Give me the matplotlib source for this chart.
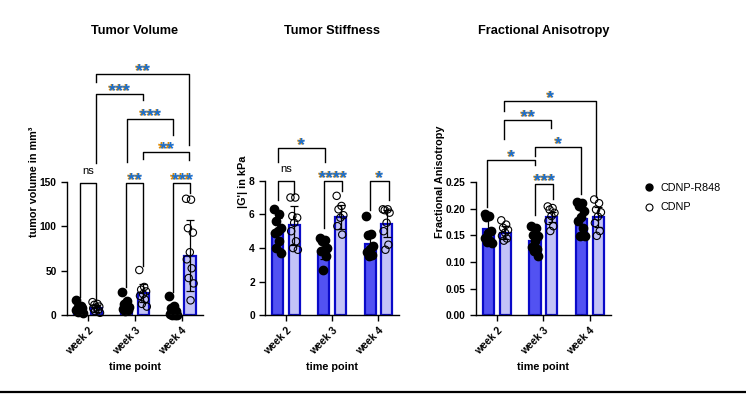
import matplotlib
matplotlib.use("Agg")
import matplotlib.pyplot as plt
import numpy as np
from matplotlib.lines import Line2D


weeks = ["week 2", "week 3", "week 4"]
groups = ["CDNP-R848", "CDNP"]

# tumor volume (mm3)
vol_r848_mean = [8, 10, 4]
vol_r848_sd = [5, 7, 7]
vol_cdnp_mean = [8, 25, 67]
vol_cdnp_sd = [4, 10, 40]
vol_r848_pts = [
    [17, 11, 9, 8, 7, 6, 5, 4, 3],
    [26, 16, 13, 10, 8, 7, 6, 5],
    [22, 11, 8, 5, 3, 2, 1, 1, 0.5],
]
vol_cdnp_pts = [
    [15, 13, 12, 10, 9, 8, 6, 5, 3],
    [51, 32, 29, 27, 24, 22, 18, 13, 10],
    [131, 130, 98, 93, 71, 63, 53, 42, 36, 17],
]

# tumor stiffness |G'| (kPa)
stiff_r848_mean = [4.9, 3.85, 4.25]
stiff_r848_sd = [0.9, 0.5, 0.7]
stiff_cdnp_mean = [5.35, 5.85, 5.45]
stiff_cdnp_sd = [1.15, 0.7, 0.8]
stiff_r848_pts = [
    [6.3, 6.05, 5.6, 5.2, 5.0, 4.9, 4.4, 4.0, 3.7],
    [4.6, 4.5, 4.4, 4.0, 3.9, 3.8, 3.5, 2.7],
    [5.9, 4.85, 4.75, 4.15, 3.95, 3.75, 3.6, 3.55],
]
stiff_cdnp_pts = [
    [7.0, 7.0, 5.9, 5.8, 5.5, 5.0, 4.4, 4.0, 3.9],
    [7.1, 6.5, 6.3, 5.95, 5.8, 5.3, 4.8],
    [6.3, 6.3, 6.25, 6.1, 5.5, 5.0, 4.2, 3.9],
]

# fractional anisotropy
fa_r848_mean = [0.162, 0.14, 0.18]
fa_r848_sd = [0.022, 0.015, 0.025]
fa_cdnp_mean = [0.155, 0.184, 0.184]
fa_cdnp_sd = [0.012, 0.01, 0.018]
fa_r848_pts = [
    [0.19, 0.186, 0.184, 0.158, 0.155, 0.145, 0.14, 0.137, 0.135],
    [0.168, 0.163, 0.15, 0.148, 0.14, 0.128, 0.125, 0.12, 0.112],
    [0.212, 0.211, 0.204, 0.195, 0.185, 0.177, 0.164, 0.149, 0.148],
]
fa_cdnp_pts = [
    [0.178, 0.17, 0.164, 0.16, 0.155, 0.149, 0.144, 0.14],
    [0.204, 0.201, 0.198, 0.192, 0.186, 0.177, 0.167, 0.158],
    [0.217, 0.21, 0.198, 0.193, 0.185, 0.173, 0.158, 0.149],
]

# significance brackets: x1, x2, y, left leg end, right leg end, label
vol_brackets = [
    (-0.18, 0.18, 149, 21, 16, "ns"),
    (0.82, 1.18, 149, 32, 56, "**"),
    (1.82, 2.18, 149, 26, 137, "***"),
    (1.18, 2.16, 183, 176, 175, "**"),
    (0.84, 1.82, 220, 172, 203, "***"),
    (0.16, 1.18, 249, 171, 242, "***"),
    (0.18, 2.16, 271, 262, 191, "**"),
]
stiff_brackets = [
    (-0.18, 0.18, 7.96, 6.87, 7.2, "ns"),
    (0.82, 1.2, 7.96, 5.19, 7.36, "****"),
    (1.82, 2.22, 7.96, 6.28, 6.87, "*"),
    (-0.18, 0.84, 9.92, 9.1, 9.1, "*"),
]
fa_brackets = [
    (0.82, 1.2, 0.2466, 0.188, 0.217, "***"),
    (-0.21, 0.82, 0.29, 0.202, 0.282, "*"),
    (0.82, 1.82, 0.316, 0.298, 0.228, "*"),
    (0.15, 1.16, 0.365, 0.331, 0.351, "**"),
    (0.15, 2.14, 0.402, 0.383, 0.222, "*"),
]

DARK = "#5252f2"
LIGHT = "#c3c3f7"
EDGE = "#0a0ac8"
OFF = 0.18
BW = 0.24


def setup():
    plt.rcParams.update({
        "font.family": ["Liberation Sans", "DejaVu Sans"],
        "font.size": 7.4,
        "axes.linewidth": 1.0,
        "xtick.major.width": 1.0,
        "ytick.major.width": 1.0,
        "xtick.major.size": 4,
        "ytick.major.size": 4,
    })


def jitter(n, width=0.17):
    return ((np.arange(n) * 0.618) % 1.0 - 0.5) * width


def stars(ax, x, y, label):
    if label == "ns":
        ax.annotate(label, (x, y), xytext=(0, 5), textcoords="offset points",
                    ha="center", va="bottom", fontsize=8, annotation_clip=False)
        return
    for dx, col in [(-0.5, "#e08a00"), (0.4, "#1a6fd0")]:
        ax.annotate(label, (x, y), xytext=(dx, -1.5), textcoords="offset points",
                    ha="center", va="baseline", fontsize=13, fontweight="bold",
                    color=col, annotation_clip=False)


def panel(ax, r_mean, r_sd, c_mean, c_sd, r_pts, c_pts, brackets, ymax, yticks, fmt):
    x = np.arange(len(weeks))
    ax.bar(x - OFF, r_mean, BW, color=DARK, edgecolor=EDGE, linewidth=1.6, zorder=2)
    ax.bar(x + OFF, c_mean, BW, color=LIGHT, edgecolor=EDGE, linewidth=1.6, zorder=2)
    ax.errorbar(x - OFF, r_mean, yerr=r_sd, fmt="none", ecolor="black",
                elinewidth=0.9, capsize=3, capthick=0.9, zorder=4)
    ax.errorbar(x + OFF, c_mean, yerr=c_sd, fmt="none", ecolor="black",
                elinewidth=0.9, capsize=3, capthick=0.9, zorder=4)
    for i in range(len(weeks)):
        rp = np.array(r_pts[i])
        cp = np.array(c_pts[i])
        ax.scatter(i - OFF + jitter(len(rp)), rp, s=36, color="black", zorder=3,
                   clip_on=False)
        ax.scatter(i + OFF + jitter(len(cp)), cp, s=28, facecolors="none",
                   edgecolors="black", linewidths=0.8, zorder=3, clip_on=False)

    for x1, x2, y, yl, yr, lab in brackets:
        ax.plot([x1, x1, x2, x2], [yl, y, y, yr], color="black", lw=1.0,
                clip_on=False, zorder=5)
        stars(ax, (x1 + x2) / 2, y, lab)

    ax.axhline(0, color="#999999", lw=0.8, ls=(0, (2, 2)), zorder=6)
    ax.set_xlim(-0.45, 2.45)
    ax.set_ylim(0, ymax)
    ax.spines["top"].set_visible(False)
    ax.spines["right"].set_visible(False)
    ax.spines["left"].set_bounds(0, yticks[-1])
    ax.set_yticks(yticks)
    ax.set_yticklabels([fmt.format(t) for t in yticks], fontweight="bold")
    ax.set_xticks(x)
    ax.set_xticklabels(weeks, rotation=45, ha="right", rotation_mode="anchor",
                       fontweight="bold")
    ax.tick_params(axis="x", pad=3)
    ax.set_xlabel("time point", fontsize=7.8, fontweight="bold", labelpad=4)


def main():
    setup()
    fig = plt.figure(figsize=(7.46, 3.95), dpi=100)
    bottom, height = 0.2013, 0.6767
    ax1 = fig.add_axes([0.0898, bottom, 0.1819, height])
    ax2 = fig.add_axes([0.3556, bottom, 0.1796, height])
    ax3 = fig.add_axes([0.638, bottom, 0.1806, height])

    panel(ax1, vol_r848_mean, vol_r848_sd, vol_cdnp_mean, vol_cdnp_sd,
          vol_r848_pts, vol_cdnp_pts, vol_brackets, 300, [0, 50, 100, 150], "{:g}")
    panel(ax2, stiff_r848_mean, stiff_r848_sd, stiff_cdnp_mean, stiff_cdnp_sd,
          stiff_r848_pts, stiff_cdnp_pts, stiff_brackets, 15.86, [0, 2, 4, 6, 8], "{:g}")
    panel(ax3, fa_r848_mean, fa_r848_sd, fa_cdnp_mean, fa_cdnp_sd,
          fa_r848_pts, fa_cdnp_pts, fa_brackets, 0.5,
          [0.0, 0.05, 0.10, 0.15, 0.20, 0.25], "{:.2f}")

    ax1.set_ylabel("tumor volume in mm³", fontsize=7.8, fontweight="bold", labelpad=0.5)
    ax2.set_ylabel("|G'| in kPa", fontsize=7.8, fontweight="bold", labelpad=0.5)
    ax3.set_ylabel("Fractional Anisotropy", fontsize=7.8, fontweight="bold", labelpad=0.5)

    for ax, title in [(ax1, "Tumor Volume"), (ax2, "Tumor Stiffness"),
                      (ax3, "Fractional Anisotropy")]:
        ax.set_title(title, fontsize=9.2, fontweight="bold", pad=10)

    handles = [
        Line2D([], [], marker="o", ls="none", color="black", markersize=5),
        Line2D([], [], marker="o", ls="none", markerfacecolor="none",
               markeredgecolor="black", markeredgewidth=0.8, markersize=5),
    ]
    fig.legend(handles, groups, loc="center left", bbox_to_anchor=(0.85, 0.50),
               frameon=False, fontsize=7.8, handletextpad=0.5, labelspacing=0.9,
               handlelength=1.0)

    fig.add_artist(Line2D([0, 1], [0.008, 0.008], color="black", lw=1.6))
    fig.savefig("out.png", dpi=100)


if __name__ == "__main__":
    main()
